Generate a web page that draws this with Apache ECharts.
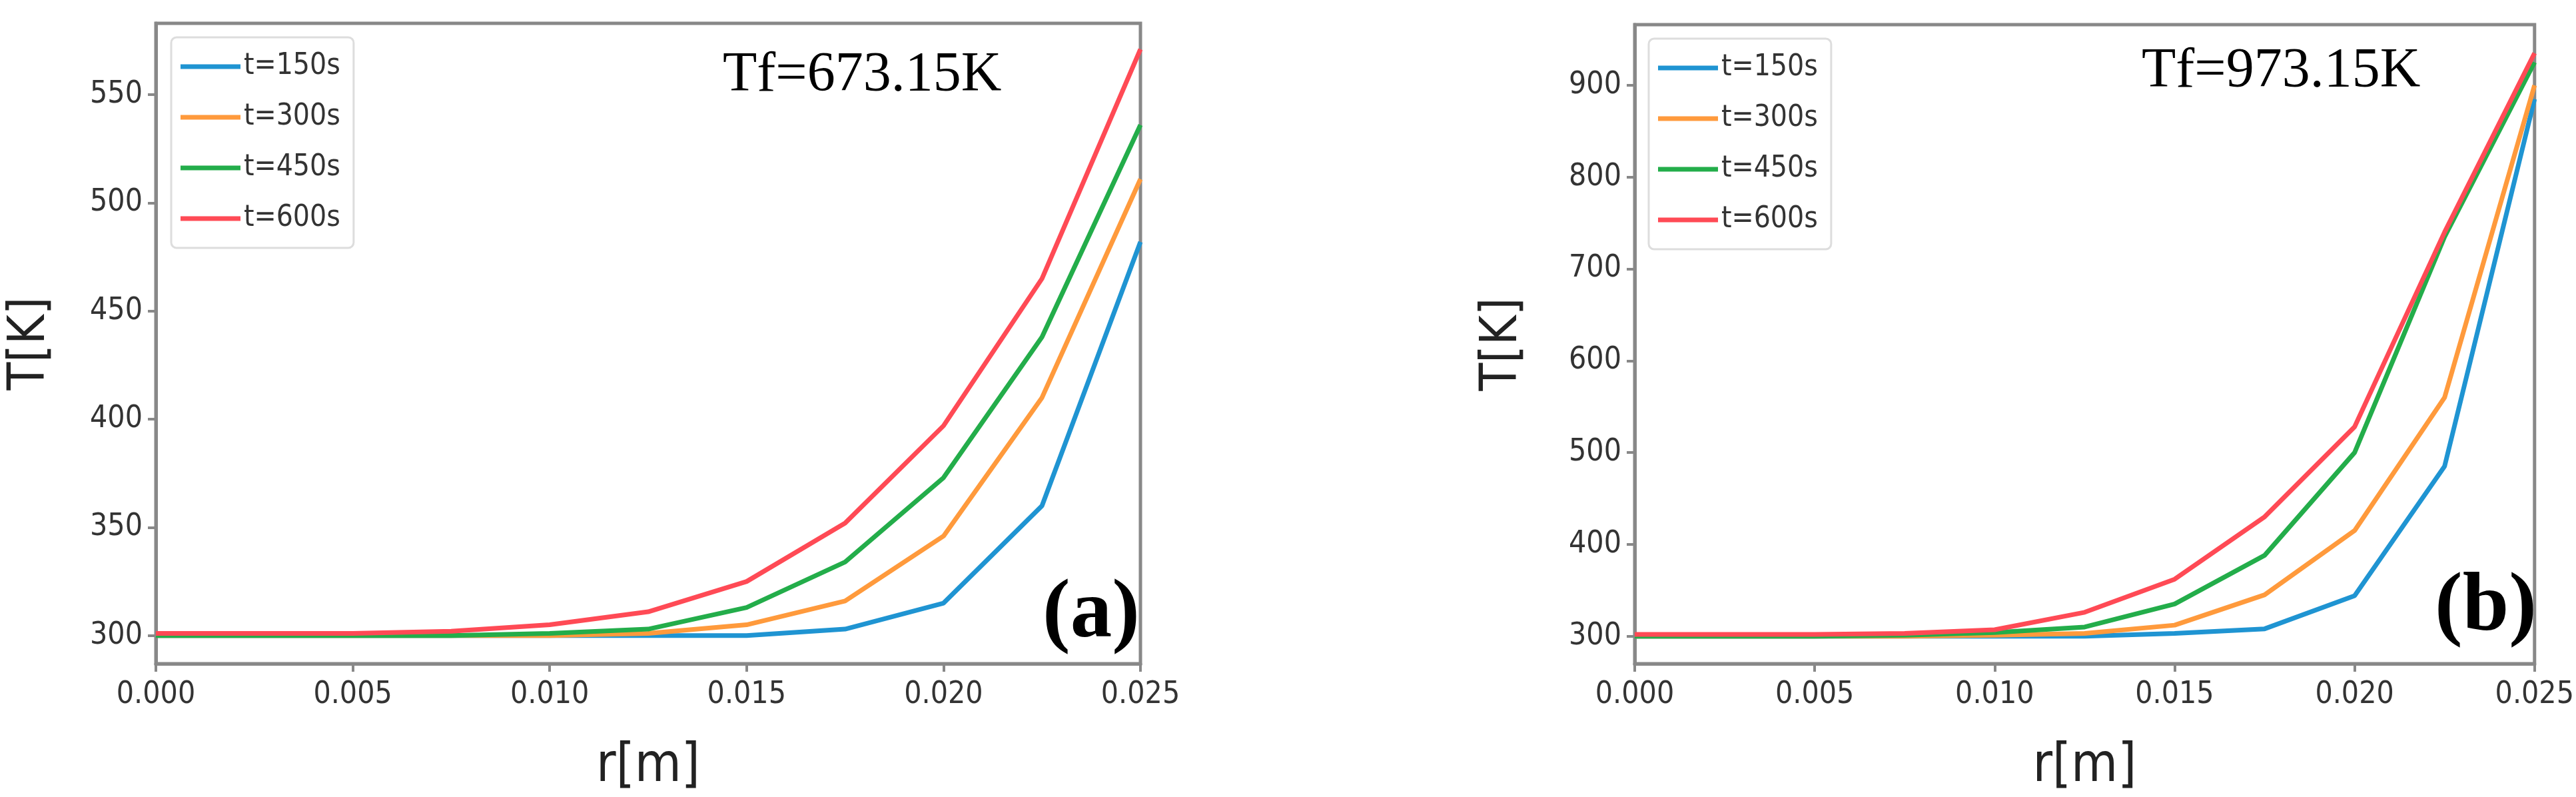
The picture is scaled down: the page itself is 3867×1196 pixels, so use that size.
<!DOCTYPE html>
<html><head><meta charset="utf-8">
<script src="https://cdn.jsdelivr.net/npm/echarts@6/dist/echarts.min.js"></script>
<style>html,body{margin:0;padding:0;background:#fff}#c{width:3867px;height:1196px}</style>
</head><body><div id="c"></div>
<script>
const r = [0,0.0025,0.005,0.0075,0.01,0.0125,0.015,0.0175,0.02,0.0225,0.025];
const seriesNames = ['t=150s','t=300s','t=450s','t=600s'];
const colors = ['#1f94d2','#ff9a3c','#23ad4a','#ff4a55'];
const a150 = [300,300,300,300,300,300,300,303,315,360,482];
const a300 = [300,300,300,300,300,301,305,316,346,410,511];
const a450 = [300,300,300,300,301,303,313,334,373,438,536];
const a600 = [301,301,301,302,305,311,325,352,397,465,571];
const b150 = [300,300,300,300,300,300,303,308,344,485,885];
const b300 = [300,300,300,300,301,303,312,345,415,560,900];
const b450 = [300,300,300,301,304,310,335,388,500,735,925];
const b600 = [302,302,302,303,307,326,362,430,528,740,935];
const aYTicks = [300,350,400,450,500,550];
const bYTicks = [300,400,500,600,700,800,900];

const chart = echarts.init(document.getElementById('c'));
const gridStyle = {show:true, borderColor:'#888', borderWidth:5, backgroundColor:'transparent'};
const grids = [
  Object.assign({left:234, right:2155, top:35, height:973}, gridStyle),
  Object.assign({left:2454, right:47, top:37, height:971}, gridStyle)
];
const axisLine = {show:true, lineStyle:{color:'#888', width:5}};
const lbl = {fontSize:46, color:'#333', fontFamily:'Liberation Sans Narrow, DejaVu Sans Condensed, sans-serif'};
function xAx(i){return {type:'value', gridIndex:i, min:0, max:0.025, interval:0.005,
  axisLine, axisTick:{show:true,length:12,lineStyle:{color:'#888',width:4}}, splitLine:{show:false},
  axisLabel:Object.assign({margin:24, formatter:v=>v.toFixed(3)}, lbl),
  name:'r[m]', nameLocation:'middle', nameGap:115, nameTextStyle:{fontSize:80, color:'#222', fontFamily:'DejaVu Sans Condensed, sans-serif'}};}
function yAx(i,min,max,ticks,gap){return {type:'value', gridIndex:i, min, max,
  axisLine, axisTick:{show:true,length:12,customValues:ticks,lineStyle:{color:'#888',width:4}}, splitLine:{show:false},
  axisLabel:Object.assign({margin:20, customValues:ticks, showMinLabel:true, showMaxLabel:true, hideOverlap:false}, lbl),
  name:'T[K]', nameLocation:'middle', nameGap:gap, nameTextStyle:{fontSize:76, color:'#222', fontFamily:'DejaVu Sans Condensed, sans-serif'}};}
const yAxes = [yAx(0,287,583,aYTicks,150), yAx(1,270,966,bYTicks,160)];
const xAxes = [xAx(0), xAx(1)];
const sets = [[a150,a300,a450,a600],[b150,b300,b450,b600]];
const series = [];
sets.forEach((s,g)=>s.forEach((d,k)=>series.push({
  type:'line', name:seriesNames[k], xAxisIndex:g, yAxisIndex:g, showSymbol:false,
  data:d.map((v,j)=>[r[j],v]), lineStyle:{width:7,color:colors[k]}, itemStyle:{color:colors[k]}, z:2+k
})));
const legendBase = {orient:'vertical', itemWidth:90, itemHeight:7, itemGap:32, 
  textStyle:{fontSize:44,color:'#333',fontFamily:'Liberation Sans Narrow, DejaVu Sans Condensed, sans-serif'},
  backgroundColor:'#fff', borderColor:'#ddd', borderWidth:3, borderRadius:8, padding:[22,20,22,14], icon:'rect', data:seriesNames};
chart.setOption({
  animation:false,
  grid:grids, xAxis:xAxes, yAxis:yAxes, series,
  legend:[Object.assign({left:257, top:56}, legendBase), Object.assign({left:2475, top:58}, legendBase)],
  graphic:[
    {type:'text', left:1085, top:72, style:{text:'Tf=673.15K', fontSize:84, fontFamily:'Liberation Serif, serif', fill:'#000'}},
    {type:'text', left:1565, top:860, style:{text:'(a)', fontSize:125, fontWeight:'bold', fontFamily:'Liberation Serif, serif', fill:'#000'}},
    {type:'text', left:3215, top:66, style:{text:'Tf=973.15K', fontSize:84, fontFamily:'Liberation Serif, serif', fill:'#000'}},
    {type:'text', left:3655, top:850, style:{text:'(b)', fontSize:125, fontWeight:'bold', fontFamily:'Liberation Serif, serif', fill:'#000'}}
  ]
});
</script></body></html>
